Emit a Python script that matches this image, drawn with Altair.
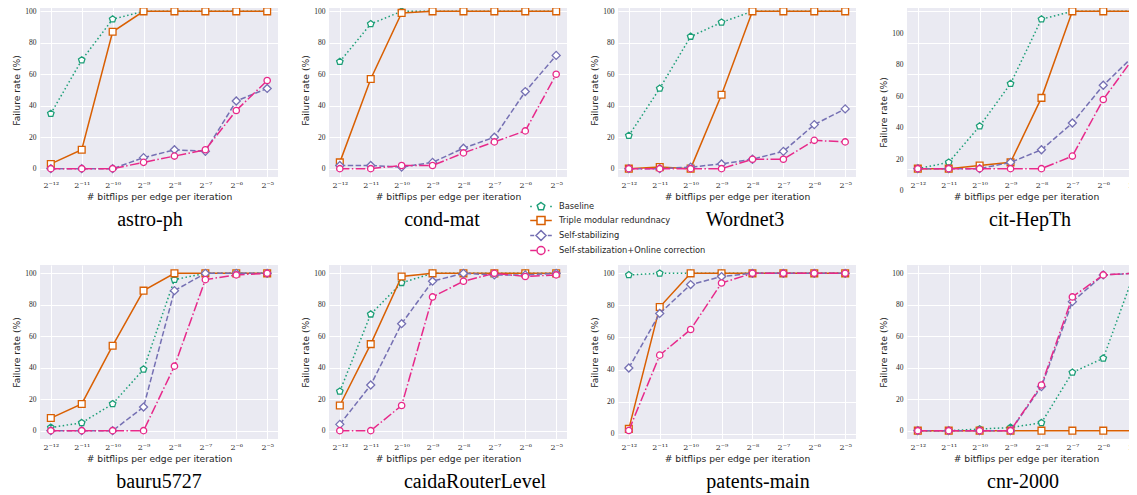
import altair as alt
import pandas as pd

# ---------------- data ----------------
exps = [-12, -11, -10, -9, -8, -7, -6, -5]
xtick_labels = ["2⁻¹²", "2⁻¹¹", "2⁻¹⁰", "2⁻⁹", "2⁻⁸", "2⁻⁷", "2⁻⁶", "2⁻⁵"]
ytick_values = [0, 20, 40, 60, 80, 100]

datasets = ["astro-ph", "cond-mat", "Wordnet3", "cit-HepTh",
            "bauru5727", "caidaRouterLevel", "patents-main", "cnr-2000"]
methods = ["Baseline", "Triple modular redundnacy", "Self-stabilizing",
           "Self-stabilization+Online correction"]

astro_baseline = [35, 69, 95, 100, 100, 100, 100, 100]
astro_tmr = [3, 12, 87, 100, 100, 100, 100, 100]
astro_ss = [0, 0, 0, 7, 12, 11, 43, 51]
astro_oc = [0, 0, 0, 4, 8, 12, 37, 56]

cond_baseline = [68, 92, 100, 100, 100, 100, 100, 100]
cond_tmr = [4, 57, 99, 100, 100, 100, 100, 100]
cond_ss = [2, 2, 1, 4, 13, 20, 49, 72]
cond_oc = [0, 0, 2, 2, 10, 17, 24, 60]

word_baseline = [21, 51, 84, 93, 100, 100, 100, 100]
word_tmr = [0, 1, 0, 47, 100, 100, 100, 100]
word_ss = [0, 0, 1, 3, 6, 11, 28, 38]
word_oc = [0, 0, 0, 0, 6, 6, 18, 17]

cit_baseline = [0, 4, 27, 54, 95, 100, 100, 100]
cit_tmr = [0, 0, 2, 4, 45, 100, 100, 100]
cit_ss = [0, 0, 0, 4, 12, 29, 53, 72]
cit_oc = [0, 0, 0, 0, 0, 8, 44, 71]

bauru_baseline = [2, 5, 17, 39, 96, 100, 100, 100]
bauru_tmr = [8, 17, 54, 89, 100, 100, 100, 100]
bauru_ss = [0, 0, 0, 15, 89, 100, 100, 100]
bauru_oc = [0, 0, 0, 0, 41, 96, 99, 100]

caida_baseline = [25, 74, 94, 100, 100, 100, 100, 100]
caida_tmr = [16, 55, 98, 100, 100, 100, 100, 100]
caida_ss = [4, 29, 68, 95, 100, 99, 99, 100]
caida_oc = [0, 0, 16, 85, 95, 100, 98, 99]

patents_baseline = [99, 100, 100, 100, 100, 100, 100, 100]
patents_tmr = [3, 79, 100, 100, 100, 100, 100, 100]
patents_ss = [41, 75, 93, 98, 100, 100, 100, 100]
patents_oc = [2, 49, 65, 94, 100, 100, 100, 100]

cnr_baseline = [0, 0, 1, 2, 5, 37, 46, 100]
cnr_tmr = [0, 0, 0, 0, 0, 0, 0, 0]
cnr_ss = [0, 0, 0, 0, 28, 82, 99, 100]
cnr_oc = [0, 0, 0, 0, 29, 85, 99, 100]

series = {
    "astro-ph": [astro_baseline, astro_tmr, astro_ss, astro_oc],
    "cond-mat": [cond_baseline, cond_tmr, cond_ss, cond_oc],
    "Wordnet3": [word_baseline, word_tmr, word_ss, word_oc],
    "cit-HepTh": [cit_baseline, cit_tmr, cit_ss, cit_oc],
    "bauru5727": [bauru_baseline, bauru_tmr, bauru_ss, bauru_oc],
    "caidaRouterLevel": [caida_baseline, caida_tmr, caida_ss, caida_oc],
    "patents-main": [patents_baseline, patents_tmr, patents_ss, patents_oc],
    "cnr-2000": [cnr_baseline, cnr_tmr, cnr_ss, cnr_oc],
}

rows = []
for ds in datasets:
    for m, vals in zip(methods, series[ds]):
        for e, v in zip(exps, vals):
            rows.append({"dataset": ds, "method": m, "x": e, "y": v})
df = pd.DataFrame(rows)

# ---------------- styles ----------------
colors = ["#1b9e77", "#d95f02", "#7570b3", "#e7298a"]
pentagon = "M0,-1L0.951,-0.309L0.588,0.809L-0.588,0.809L-0.951,-0.309Z"
shapes = [pentagon, "square", "diamond", "circle"]
sizes = [46, 46, 64, 40]
dashes = [[1.5, 2.5], None, [5.5, 2.4], [9.6, 2.4, 1.5, 2.4]]

legend_paths = [
    "M-2.7,0L-2.3,0M2.3,0L2.7,0" + pentagon,
    "M-2.7,0L-1,0M1,0L2.7,0M-1,-1L1,-1L1,1L-1,1Z",
    "M-2.7,0L-1.7,0M1.7,0L2.7,0M0,-1.25L1.25,0L0,1.25L-1.25,0Z",
    "M-2.7,0L-1.2,0M1.7,0L2.1,0M1,0A1,1,0,1,1,-1,0A1,1,0,1,1,1,0Z",
]

label_expr = ""
for e, lab in zip(exps[:-1], xtick_labels[:-1]):
    label_expr += "datum.value == %d ? '%s' : " % (e, lab)
label_expr += "'%s'" % xtick_labels[-1]

title_dx = [-9, -6, 8, 4, 0, 27, 21, -3]
y_domains = {"patents-main": [-3.3, 105.2]}

W, H = 238, 174
sans = "DejaVu Sans"
serif = "Liberation Serif"
txt = "#262626"

color_scale = alt.Scale(domain=methods, range=colors)
shape_scale = alt.Scale(domain=methods, range=legend_paths)

legend = alt.Legend(
    title=None, orient="none", legendX=496, legendY=198.5,
    labelFont=sans, labelFontSize=8.3, labelColor=txt,
    symbolSize=64, symbolStrokeWidth=1.5, symbolFillColor="white",
    symbolOpacity=1, labelOffset=13, rowPadding=0, padding=0, offset=0,
)


def panel(i):
    name = datasets[i]
    xenc = alt.X(
        "x:Q",
        scale=alt.Scale(domain=[-12.35, -4.65], nice=False, zero=False),
        axis=alt.Axis(values=exps, labelExpr=label_expr,
                      labelFont="DejaVu Serif", labelFontSize=8,
                      title="# bitflips per edge per iteration",
                      labelFlush=False, labelOverlap=False),
    )
    yaxis_kw = dict(values=ytick_values, title="Failure rate (%)",
                    labelFlush=False, labelOverlap=False)
    if name == "cit-HepTh":
        yaxis_kw["labelOffset"] = 22
        yaxis_kw["titleY"] = H / 2 + 22
    yenc = alt.Y("y:Q",
                 scale=alt.Scale(domain=y_domains.get(name, [-5.3, 105.3]),
                                 nice=False, zero=False),
                 axis=alt.Axis(**yaxis_kw))
    layers = []
    for j, m in enumerate(methods):
        base = alt.Chart(df).transform_filter(
            (alt.datum.dataset == name) & (alt.datum.method == m))
        line_kw = dict(strokeWidth=1.5)
        if dashes[j] is not None:
            line_kw["strokeDash"] = dashes[j]
        line = base.mark_line(**line_kw).encode(
            x=xenc, y=yenc,
            color=alt.Color("method:N", scale=color_scale, legend=None))
        pts = base.mark_point(shape=shapes[j], size=sizes[j], filled=False,
                              fill="white", opacity=1, strokeWidth=1.3).encode(
            x=xenc, y=yenc,
            color=alt.Color("method:N", scale=color_scale, legend=None))
        layers += [line, pts]
    if i == 0:
        # zero-size points that only carry the legend (color + shape merged)
        leg = alt.Chart(df).transform_filter(
            (alt.datum.dataset == name)).mark_point(
            filled=False, size=0, strokeWidth=1.5).encode(
            x=xenc, y=yenc,
            color=alt.Color("method:N", scale=color_scale, legend=legend),
            shape=alt.Shape("method:N", scale=shape_scale, legend=legend),
        )
        layers.insert(0, leg)
    return alt.layer(*layers).properties(
        width=W, height=H,
        title=alt.TitleParams(text=name, orient="bottom", font=serif, fontSize=20,
                              fontWeight="normal", color="black", dx=title_dx[i],
                              offset=9, frame="group", anchor="middle"),
    )


chart = alt.concat(*[panel(i) for i in range(8)], columns=4,
                   spacing={"row": 88, "column": 51}, bounds="flush").properties(
    padding={"left": 4, "top": -5, "right": -16, "bottom": 0}
).configure_view(
    stroke=None, fill="#EAEAF2"
).configure_axis(
    grid=True, gridColor="white", gridWidth=1, domain=False, ticks=False,
    labelFont=serif, labelFontSize=7.5, labelColor=txt, labelPadding=4,
    titleFont=sans, titleFontSize=9.2, titleFontWeight="normal", titleColor=txt,
    titlePadding=3,
)

chart.save("out.html", embed_options={"renderer": "svg", "actions": False})
